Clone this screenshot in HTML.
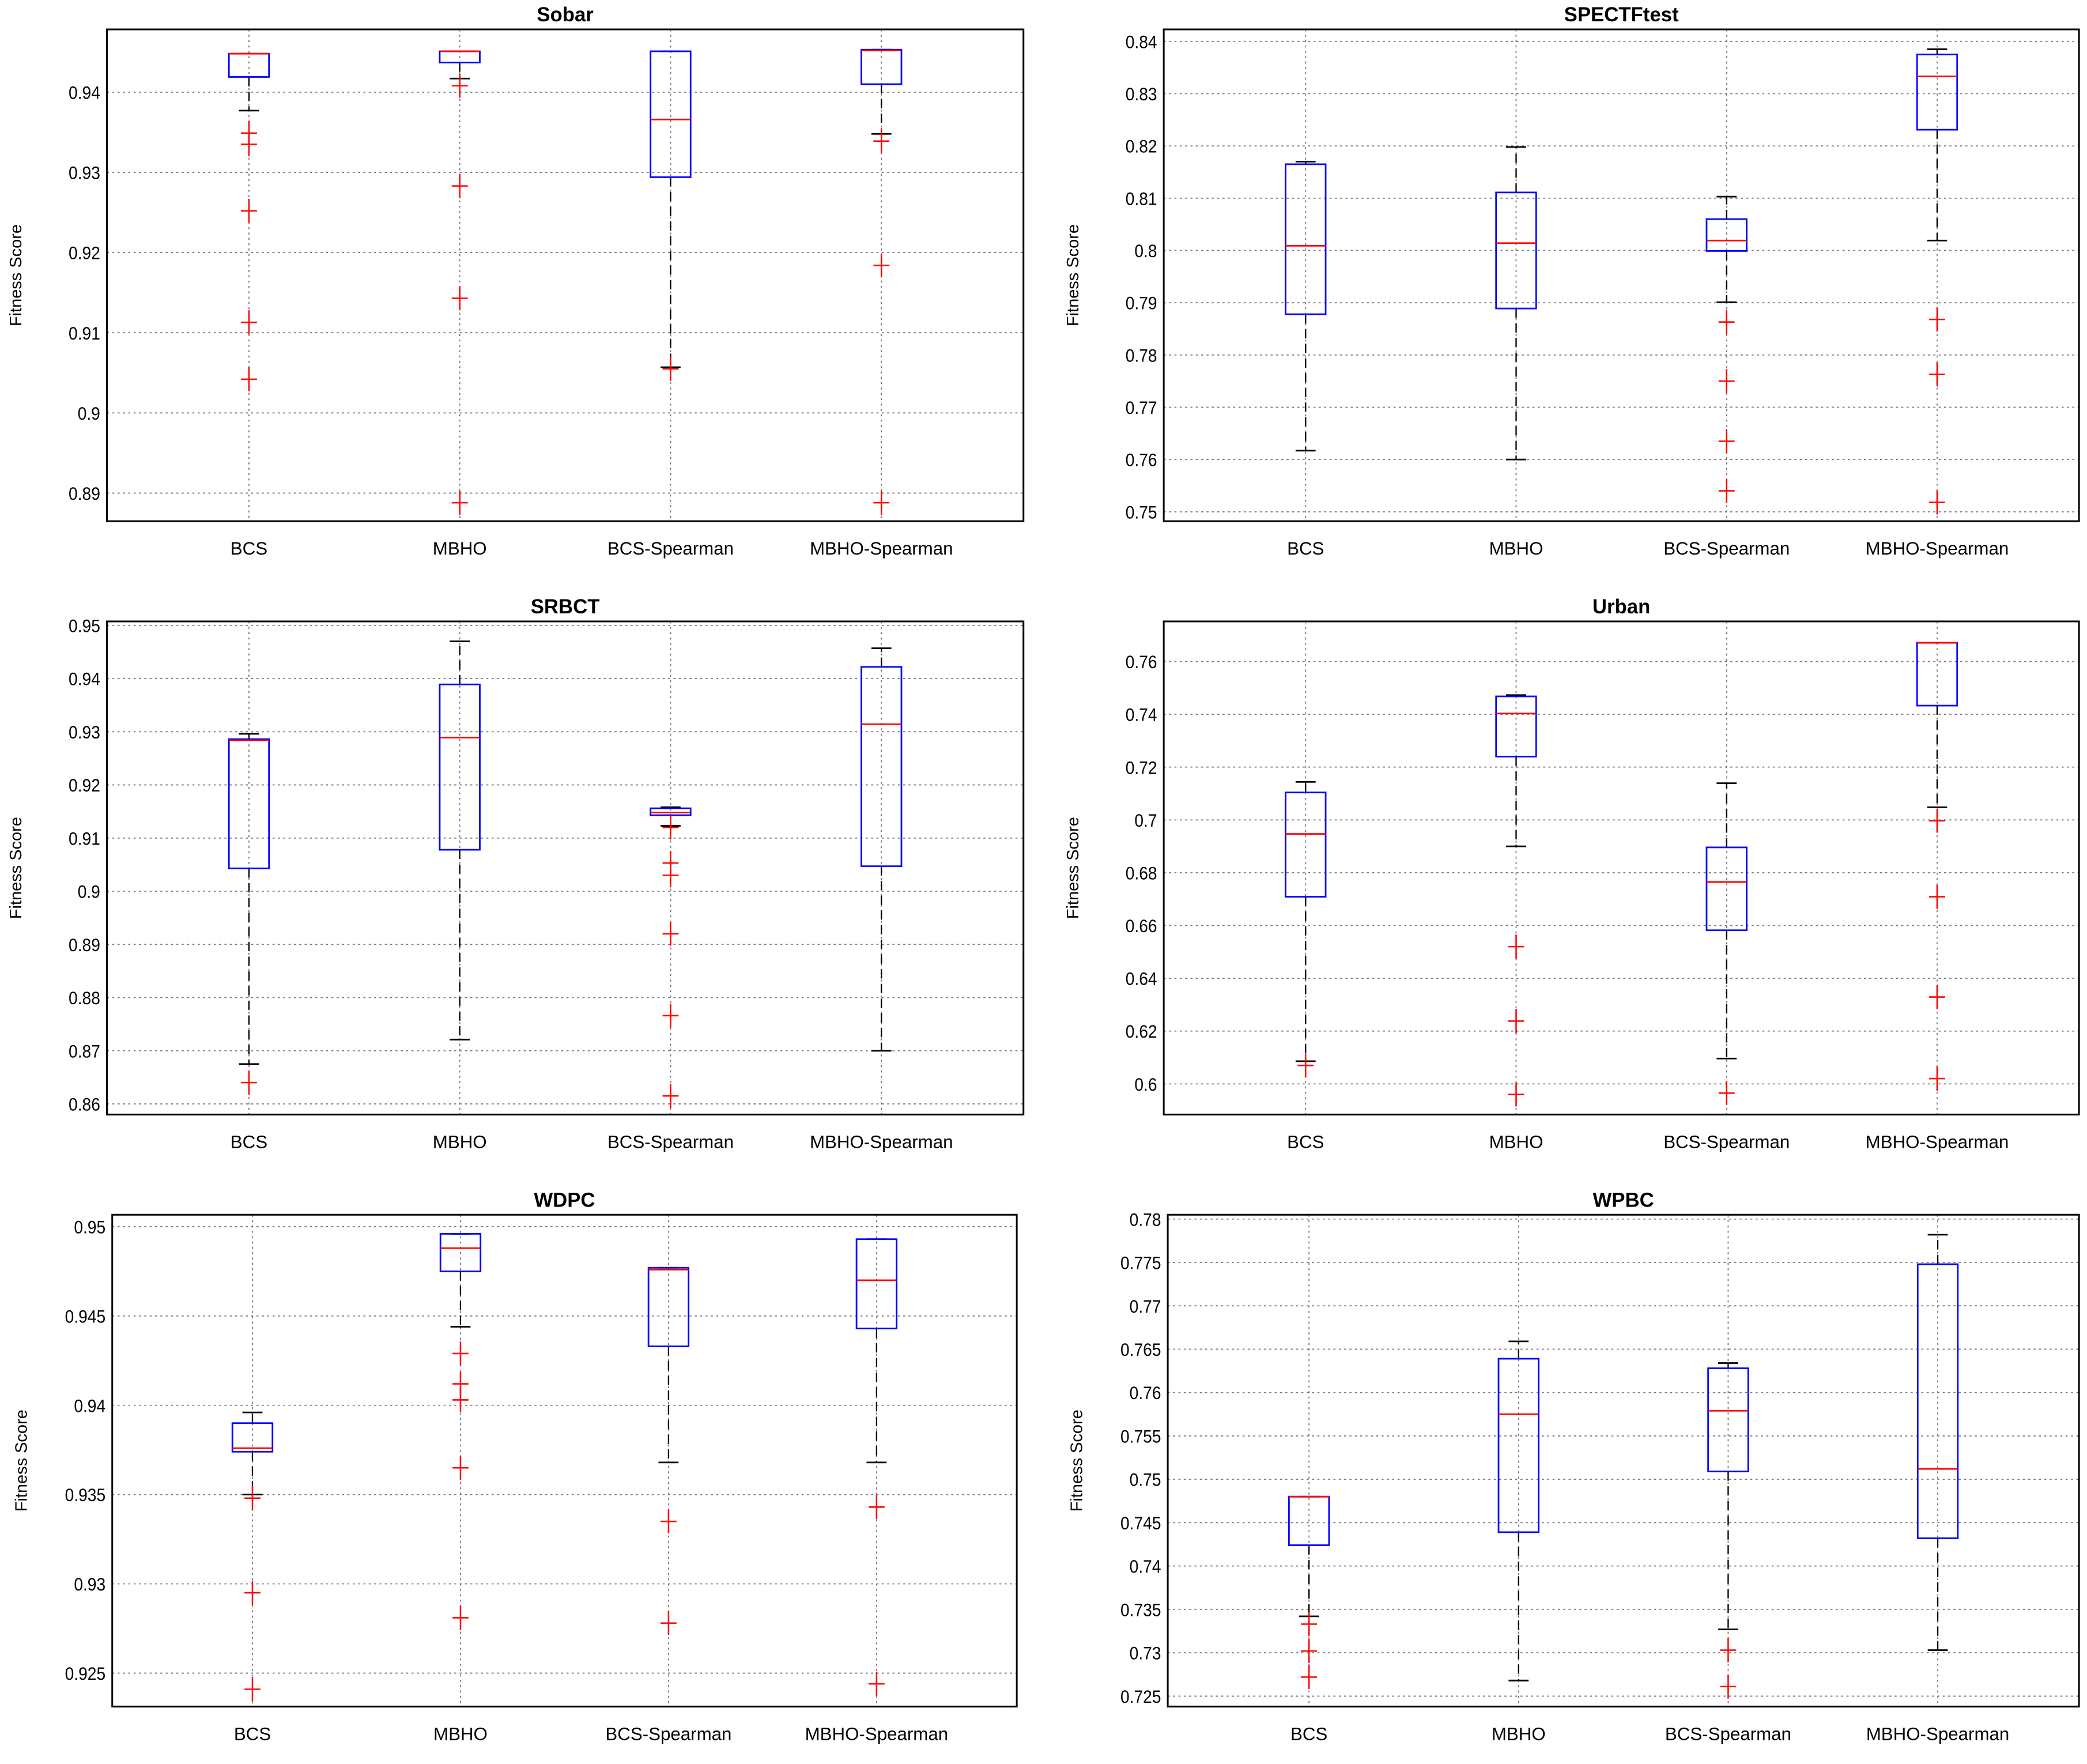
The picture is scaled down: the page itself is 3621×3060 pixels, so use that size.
<!DOCTYPE html>
<html><head><meta charset="utf-8">
<style>
html,body{margin:0;padding:0;background:#fff;}
svg{display:block;}
text{font-family:"Liberation Sans",sans-serif;}
</style></head>
<body>
<svg id="chart" width="3621" height="3060" viewBox="0 0 1562 1320" preserveAspectRatio="none" xmlns="http://www.w3.org/2000/svg"></svg>
<script>
const categories = ["BCS","MBHO","BCS-Spearman","MBHO-Spearman"];
const panelTitles = ["Sobar","SPECTFtest","SRBCT","Urban","WDPC","WPBC"];
const panelYRange = [[0.8865,0.94783],[0.7482,0.8423],[0.858,0.95075],[0.5884,0.7752],[0.92313,0.95067],[0.7238,0.7805]];
const panelTicks = [
  [0.89,0.9,0.91,0.92,0.93,0.94],
  [0.75,0.76,0.77,0.78,0.79,0.8,0.81,0.82,0.83,0.84],
  [0.86,0.87,0.88,0.89,0.9,0.91,0.92,0.93,0.94,0.95],
  [0.6,0.62,0.64,0.66,0.68,0.7,0.72,0.74,0.76],
  [0.925,0.93,0.935,0.94,0.945,0.95],
  [0.725,0.73,0.735,0.74,0.745,0.75,0.755,0.76,0.765,0.77,0.775,0.78]
];
// [whiskerLow, q1, median, q3, whiskerHigh]
const sobarBoxes = [[0.9377,0.9419,0.9448,0.9448,0.9448],[0.9417,0.9437,0.9451,0.9451,0.9451],[0.9057,0.9294,0.9366,0.9451,0.9451],[0.9348,0.9410,0.9452,0.9453,0.9453]];
const sobarOutliers = [[0.9349,0.9335,0.9252,0.9113,0.9042],[0.9408,0.9283,0.9143,0.8888],[0.9055],[0.9339,0.9184,0.8888]];
const spectfBoxes = [[0.7617,0.7878,0.8009,0.8165,0.817],[0.760,0.7889,0.8014,0.8111,0.8198],[0.7901,0.7999,0.8019,0.806,0.8103],[0.8019,0.8231,0.8333,0.8375,0.8385]];
const spectfOutliers = [[],[],[0.7863,0.775,0.7635,0.754],[0.7868,0.7763,0.7518]];
const srbctBoxes = [[0.8675,0.9043,0.9284,0.9286,0.9296],[0.8721,0.9078,0.9289,0.9389,0.947],[0.9123,0.9143,0.9148,0.9156,0.9158],[0.870,0.9047,0.9314,0.9422,0.9457]];
const srbctOutliers = [[0.864],[],[0.912,0.9053,0.903,0.892,0.8766,0.8615],[]];
const urbanBoxes = [[0.6086,0.6709,0.6947,0.7104,0.7144],[0.690,0.724,0.7403,0.7468,0.7473],[0.6096,0.6582,0.6765,0.6896,0.7139],[0.7048,0.7433,0.7671,0.7671,0.7671]];
const urbanOutliers = [[0.607],[0.652,0.6238,0.596],[0.5965],[0.6997,0.6709,0.6329,0.602]];
const wdpcBoxes = [[0.935,0.9374,0.9376,0.939,0.9396],[0.9444,0.9475,0.9488,0.9496,0.9496],[0.9368,0.9433,0.9476,0.9477,0.9477],[0.9368,0.9443,0.947,0.9493,0.9493]];
const wdpcOutliers = [[0.9348,0.9295,0.9241],[0.9429,0.9412,0.9403,0.9365,0.9281],[0.9335,0.9278],[0.9343,0.9244]];
const wpbcBoxes = [[0.7342,0.7424,0.748,0.748,0.748],[0.7268,0.7439,0.7575,0.7639,0.7659],[0.7327,0.7509,0.7579,0.7628,0.7634],[0.7303,0.7432,0.7512,0.7748,0.7782]];
const wpbcOutliers = [[0.7333,0.7302,0.7272],[],[0.7303,0.7261],[]];

const allBoxes = [sobarBoxes,spectfBoxes,srbctBoxes,urbanBoxes,wdpcBoxes,wpbcBoxes];
const allOutliers = [sobarOutliers,spectfOutliers,srbctOutliers,urbanOutliers,wdpcOutliers,wpbcOutliers];
const frames = [[80,766,22,390],[871,1556,22,390],[80,766,465,834],[871,1556,465,834],[84,761,909,1277],[874,1556,909,1277]];

const NS="http://www.w3.org/2000/svg";
const svg=document.getElementById('chart');
function mk(tag,attrs,parent){const e=document.createElementNS(NS,tag);for(const k in attrs)e.setAttribute(k,attrs[k]);(parent||svg).appendChild(e);return e;}

for(let p=0;p<6;p++){
  const [L,R,T,B]=frames[p];
  const [y0,y1]=panelYRange[p];
  const yS=v=>B-(v-y0)/(y1-y0)*(B-T);
  const m=(R-L)*0.155;
  const step=(R-L-2*m)/(categories.length-1);
  const xS=i=>L+m+step*i;
  const g=mk('g',{});
  
  
  const title=mk('text',{x:(L+R)/2,y:T-6,'text-anchor':'middle','font-size':15,'font-weight':'bold'},g);
  title.textContent=panelTitles[p];
  
  
  const yt=mk('text',{x:0,y:0,'text-anchor':'middle','font-size':12.5,transform:`translate(${L-64},${(T+B)/2}) rotate(-90)`},g);
  yt.textContent='Fitness Score';
  
  
  panelTicks[p].forEach(t=>{
    const y=yS(t);
    const gl=mk('line',{x1:L,x2:R,y1:y,y2:y,stroke:'#777','stroke-width':0.8,'stroke-dasharray':'1.5,2.5'},g);
    
    
    const tl=mk('text',{x:L-5,y:y+5,'text-anchor':'end','font-size':13.5,transform:`translate(${L-5},0) scale(0.9,1) translate(${-(L-5)},0)`},g);
    tl.textContent=String(t);
    
    
  });
  categories.forEach((c,i)=>{
    const x=xS(i);
    const gl=mk('line',{x1:x,x2:x,y1:T,y2:B,stroke:'#777','stroke-width':0.8,'stroke-dasharray':'1.5,2.5'},g);
    
    
    const tl=mk('text',{x:x,y:B+25,'text-anchor':'middle','font-size':13.5},g);
    tl.textContent=c;
    
    
  });
  allBoxes[p].forEach((b,i)=>{
    const x=xS(i),hw=15,cw=7.5;
    const [lo,q1,md,q3,hi]=b;
    const bg=mk('g',{},g);
    
    
    mk('line',{x1:x,x2:x,y1:yS(q3),y2:yS(hi),stroke:'#000','stroke-width':1,'stroke-dasharray':'7,4'},bg);
    mk('line',{x1:x,x2:x,y1:yS(q1),y2:yS(lo),stroke:'#000','stroke-width':1,'stroke-dasharray':'7,4'},bg);
    mk('line',{x1:x-cw,x2:x+cw,y1:yS(hi),y2:yS(hi),stroke:'#000','stroke-width':1.2},bg);
    mk('line',{x1:x-cw,x2:x+cw,y1:yS(lo),y2:yS(lo),stroke:'#000','stroke-width':1.2},bg);
    mk('rect',{x:x-hw,y:yS(q3),width:2*hw,height:Math.max(0.5,yS(q1)-yS(q3)),fill:'none',stroke:'#0000ff','stroke-width':1.2},bg);
    mk('line',{x1:x-hw,x2:x+hw,y1:yS(md),y2:yS(md),stroke:'#ff0000','stroke-width':1.2},bg);
    allOutliers[p][i].forEach(o=>{
      const y=yS(o);
      const pl=mk('path',{d:`M${x-6},${y}H${x+6}M${x},${y-9}V${y+9}`,stroke:'#ff0000','stroke-width':1.1,fill:'none'},bg);
      
      
    });
  });
  const fr=mk('rect',{x:L,y:T,width:R-L,height:B-T,fill:'none',stroke:'#000','stroke-width':1.3},g);
  
  
}
</script>
</body></html>
